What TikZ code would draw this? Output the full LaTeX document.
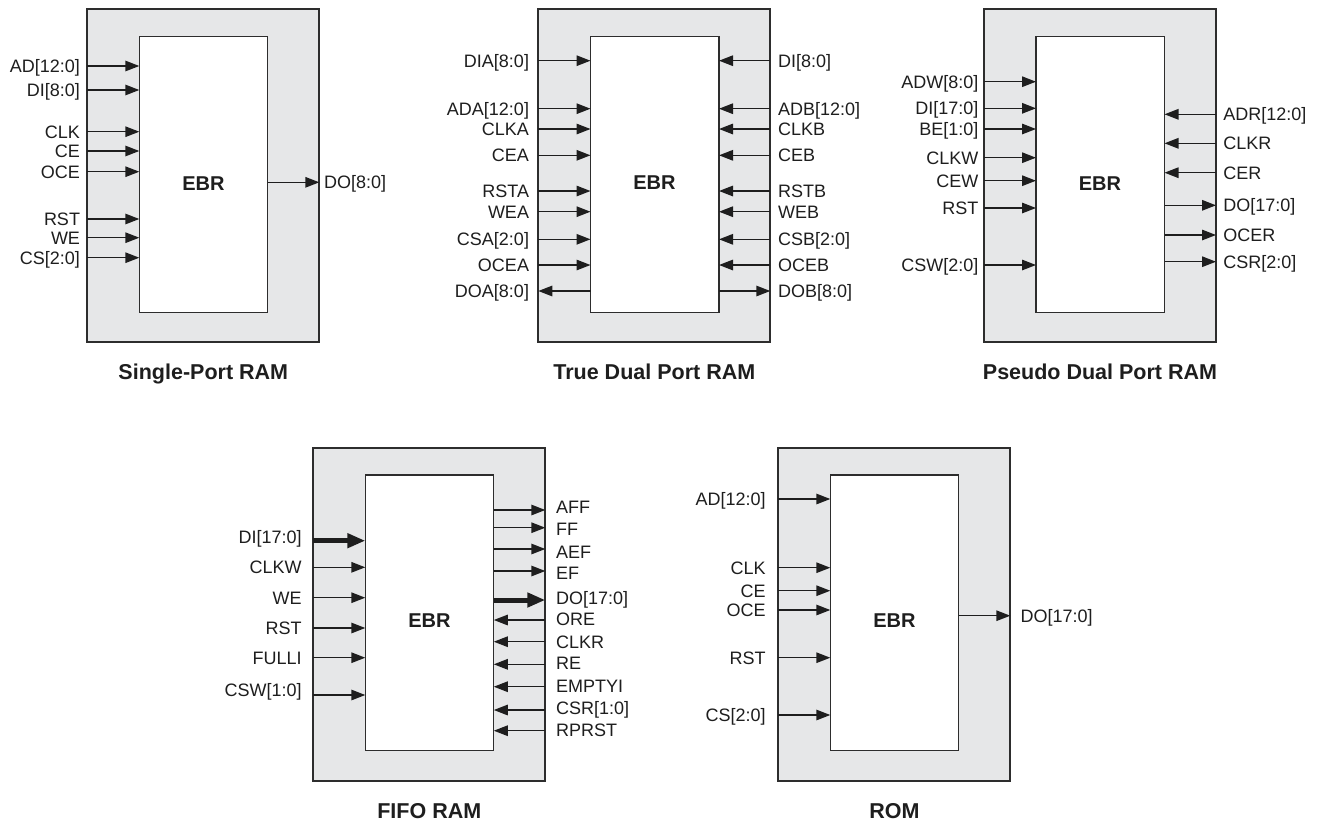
\documentclass[tikz,border=0pt]{standalone}
\usepackage{fontspec}
\setmainfont{Liberation Sans}
\usetikzlibrary{arrows.meta}
\definecolor{boxgray}{RGB}{230,231,232}
\definecolor{edge}{RGB}{45,45,45}
\definecolor{ink}{RGB}{30,30,30}
\begin{document}
\begin{tikzpicture}[x=1pt,y=-1pt,
 outerbox/.style={draw=edge, line width=1.8pt, fill=boxgray, minimum width=232pt, minimum height=333pt, inner sep=0pt, outer sep=0pt, anchor=north west},
 innerbox/.style={draw=edge, line width=1.3pt, fill=white, minimum width=128.5pt, minimum height=275.6pt, inner sep=0pt, outer sep=0pt, anchor=north west},
 lbl/.style={font=\fontsize{18}{20}\selectfont, text=ink, inner sep=0pt, outer sep=0pt, text height=12.9pt, text depth=0pt},
 ebr/.style={font=\bfseries\fontsize{20}{22}\selectfont, text=ink, inner sep=0pt, text height=14.3pt, text depth=0pt},
 ttl/.style={font=\bfseries\fontsize{21.5}{24}\selectfont, text=ink, inner sep=0pt, text height=15.4pt, text depth=0pt},
 sig/.style={draw=ink, line width=1.4pt, -{Triangle[length=14pt,width=10.5pt]}},
 bus/.style={draw=ink, line width=5pt, -{Triangle[length=18pt,width=14pt]}},
]
\fill[white] (0,0) rectangle (1322,823);
\useasboundingbox (0,0) rectangle (1322,823);

% ---------------- Single-Port RAM ----------------
\node[outerbox] (sp-out) at (87.3,9.3) {};
\node[innerbox] (sp-in) at (139.3,36.7) {};
\node[ebr] (sp-ebr) at (203.5,183.5) {EBR};
\node[ttl] (sp-ttl) at (203.3,372) {Single-Port RAM};
\foreach \t/\y [count=\i] in {{AD[12:0]}/66, {DI[8:0]}/90, CLK/131.7, CE/151, OCE/171.7, RST/219, WE/237.7, {CS[2:0]}/257.7}{
  \node[lbl, anchor=east] (sp-l\i) at (80,\y) {\t};
  \draw[sig] (sp-l\i.east -| sp-out.west) -- (sp-l\i.east -| sp-in.west);
}
\node[lbl, anchor=west] (sp-do) at (324,182.3) {DO[8:0]};
\draw[sig] (sp-do.west -| sp-in.east) -- (sp-do.west -| sp-out.east);

% ---------------- True Dual Port RAM ----------------
\node[outerbox] (td-out) at (538.3,9.3) {};
\node[innerbox] (td-in) at (590.5,36.7) {};
\node[ebr] (td-ebr) at (654.5,182.7) {EBR};
\node[ttl] (td-ttl) at (654.3,372) {True Dual Port RAM};
\foreach \t/\y [count=\i] in {{DIA[8:0]}/60.7, {ADA[12:0]}/108.7, CLKA/129, CEA/155.3, RSTA/191, WEA/211.7, {CSA[2:0]}/239.3, OCEA/265}{
  \node[lbl, anchor=east] (td-l\i) at (529,\y) {\t};
  \draw[sig] (td-l\i.east -| td-out.west) -- (td-l\i.east -| td-in.west);
}
\node[lbl, anchor=east] (td-doa) at (529,291) {DOA[8:0]};
\draw[sig] (td-doa.east -| td-in.west) -- (td-doa.east -| td-out.west);
\foreach \t/\y [count=\i] in {{DI[8:0]}/60.7, {ADB[12:0]}/108.7, CLKB/129, CEB/155.3, RSTB/191, WEB/211.7, {CSB[2:0]}/239.3, OCEB/265}{
  \node[lbl, anchor=west] (td-r\i) at (778,\y) {\t};
  \draw[sig] (td-r\i.west -| td-out.east) -- (td-r\i.west -| td-in.east);
}
\node[lbl, anchor=west] (td-dob) at (778,291) {DOB[8:0]};
\draw[sig] (td-dob.west -| td-in.east) -- (td-dob.west -| td-out.east);

% ---------------- Pseudo Dual Port RAM ----------------
\node[outerbox] (pd-out) at (984,9.3) {};
\node[innerbox] (pd-in) at (1036,36.7) {};
\node[ebr] (pd-ebr) at (1100,183.3) {EBR};
\node[ttl] (pd-ttl) at (1100,372) {Pseudo Dual Port RAM};
\foreach \t/\y [count=\i] in {{ADW[8:0]}/81.7, {DI[17:0]}/108.3, {BE[1:0]}/129, CLKW/157.7, CEW/180.7, RST/208, {CSW[2:0]}/265}{
  \node[lbl, anchor=east] (pd-l\i) at (978.3,\y) {\t};
  \draw[sig] (pd-l\i.east -| pd-out.west) -- (pd-l\i.east -| pd-in.west);
}
\foreach \t/\y [count=\i] in {{ADR[12:0]}/114.3, CLKR/143.3, CER/172.7}{
  \node[lbl, anchor=west] (pd-r\i) at (1223.3,\y) {\t};
  \draw[sig] (pd-r\i.west -| pd-out.east) -- (pd-r\i.west -| pd-in.east);
}
\foreach \t/\y [count=\i] in {{DO[17:0]}/205.3, OCER/235, {CSR[2:0]}/261.7}{
  \node[lbl, anchor=west] (pd-o\i) at (1223.3,\y) {\t};
  \draw[sig] (pd-o\i.west -| pd-in.east) -- (pd-o\i.west -| pd-out.east);
}

% ---------------- FIFO RAM ----------------
\node[outerbox] (ff-out) at (313.3,447.7) {};
\node[innerbox] (ff-in) at (365.3,475) {};
\node[ebr] (ff-ebr) at (429.5,620.7) {EBR};
\node[ttl] (ff-ttl) at (429.3,810.5) {FIFO RAM};
\node[lbl, anchor=east] (ff-di) at (301.7,537) {DI[17:0]};
\coordinate (ff-dia) at (0,540.7);
\draw[bus] (ff-dia -| ff-out.west) -- (ff-dia -| ff-in.west);
\foreach \t/\ya/\yl [count=\i] in {CLKW/567.3/567.3, WE/597.7/597.7, RST/628/628, FULLI/657.7/657.7, {CSW[1:0]}/695/690.5}{
  \node[lbl, anchor=east] (ff-l\i) at (301.7,\yl) {\t};
  \coordinate (ff-la\i) at (0,\ya);
  \draw[sig] (ff-la\i -| ff-out.west) -- (ff-la\i -| ff-in.west);
}
\foreach \t/\ya/\yl [count=\i] in {AFF/510/507, FF/527.7/529, AEF/549/551.7, EF/571/572.7}{
  \node[lbl, anchor=west] (ff-o\i) at (556,\yl) {\t};
  \coordinate (ff-oa\i) at (0,\ya);
  \draw[sig] (ff-oa\i -| ff-in.east) -- (ff-oa\i -| ff-out.east);
}
\node[lbl, anchor=west] (ff-do) at (556,597.7) {DO[17:0]};
\coordinate (ff-doa) at (0,600);
\draw[bus] (ff-doa -| ff-in.east) -- (ff-doa -| ff-out.east);
\foreach \t/\ya/\yl [count=\i] in {ORE/620/619, CLKR/641.7/641.7, RE/664.3/663.3, EMPTYI/686.7/685.7, {CSR[1:0]}/710/708.3, RPRST/730.7/730}{
  \node[lbl, anchor=west] (ff-r\i) at (556,\yl) {\t};
  \coordinate (ff-ra\i) at (0,\ya);
  \draw[sig] (ff-ra\i -| ff-out.east) -- (ff-ra\i -| ff-in.east);
}

% ---------------- ROM ----------------
\node[outerbox] (rm-out) at (778.3,447.7) {};
\node[innerbox] (rm-in) at (830.3,475) {};
\node[ebr] (rm-ebr) at (894.5,620.7) {EBR};
\node[ttl] (rm-ttl) at (894.5,810.5) {ROM};
\foreach \t/\y [count=\i] in {{AD[12:0]}/499, CLK/567.7, CE/590.7, OCE/610, RST/657.7, {CS[2:0]}/715}{
  \node[lbl, anchor=east] (rm-l\i) at (765.7,\y) {\t};
  \draw[sig] (rm-l\i.east -| rm-out.west) -- (rm-l\i.east -| rm-in.west);
}
\node[lbl, anchor=west] (rm-do) at (1020.7,615.7) {DO[17:0]};
\draw[sig] (rm-do.west -| rm-in.east) -- (rm-do.west -| rm-out.east);
\end{tikzpicture}
\end{document}
